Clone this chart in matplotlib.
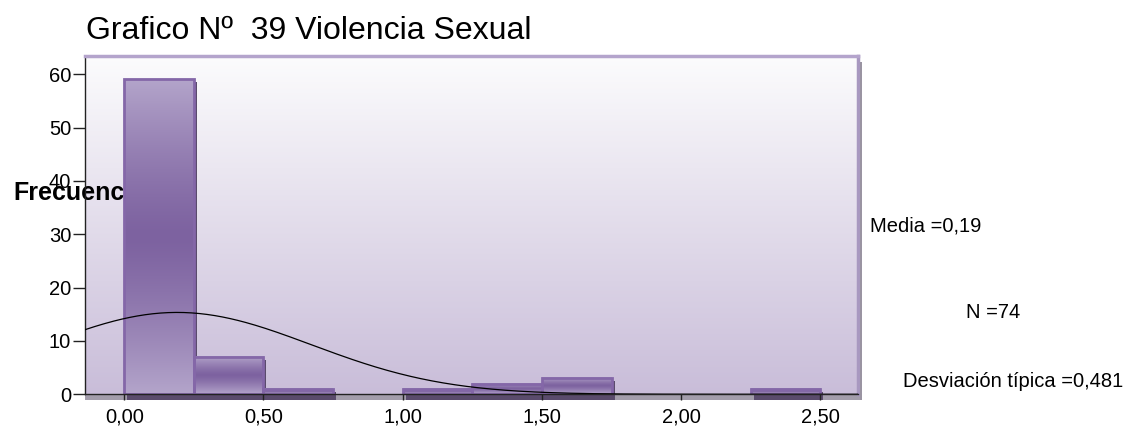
import numpy as np
import matplotlib
matplotlib.use("Agg")
import matplotlib.pyplot as plt
from matplotlib.colors import to_rgb
from matplotlib.patches import Rectangle

# ---- data ----
bin_edges = [0.0, 0.25, 0.5, 0.75, 1.0, 1.25, 1.5, 1.75, 2.0, 2.25, 2.5]
counts = [59, 7, 1, 0, 1, 2, 3, 0, 0, 1]
mean_val = 0.19
sd_val = 0.481
n_val = 74
x_ticks = [0.0, 0.5, 1.0, 1.5, 2.0, 2.5]
x_ticklabels = ["0,00", "0,50", "1,00", "1,50", "2,00", "2,50"]
y_ticks = [0, 10, 20, 30, 40, 50, 60]
title_text = "Grafico Nº  39 Violencia Sexual"
ylabel_text = "Frecuencia"
stat_texts = ["Media =0,19", "N =74", "Desviación típica =0,481"]

plt.rcParams['font.family'] = ['Liberation Sans', 'DejaVu Sans']

W, H = 1142, 426
fig = plt.figure(figsize=(W / 100, H / 100), dpi=100)
fig.patch.set_facecolor("white")

ax_l, ax_r, ax_t, ax_b = 85, 858, 56, 394.3
ax = fig.add_axes([ax_l / W, 1 - ax_b / H, (ax_r - ax_l) / W, (ax_b - ax_t) / H])
ax.set_facecolor("white")

XLIM = (-0.141, 2.635)
YLIM = (0, 63.4)

# background gradient (white top -> lavender bottom)
top_c = np.array(to_rgb("#fcfcfd"))
bot_c = np.array(to_rgb("#c9bdd9"))
t = np.linspace(0, 1, 256)[:, None]  # 0 top ... 1 bottom
grad = top_c[None, :] * (1 - t) + bot_c[None, :] * t
grad = grad[:, None, :].repeat(2, axis=1)
ax.imshow(grad, extent=[0, 1, 0, 1], transform=ax.transAxes, aspect='auto',
          zorder=0, interpolation='bilinear')

# floor band under x axis
floor_h = 6 / (ax_b - ax_t) * (YLIM[1] - YLIM[0])
ax.add_patch(Rectangle((XLIM[0], -floor_h), XLIM[1] - XLIM[0] + 0.012, floor_h,
                       facecolor="#a39dab", edgecolor="none", clip_on=False, zorder=0.5))

# bars
dark = np.array(to_rgb("#7d62a0"))
light = np.array(to_rgb("#b3a4ca"))
px_x = (XLIM[1] - XLIM[0]) / (ax_r - ax_l)
px_y = (YLIM[1] - YLIM[0]) / (ax_b - ax_t)
for i, c in enumerate(counts):
    if c <= 0:
        continue
    x0, x1 = bin_edges[i], bin_edges[i + 1]
    # shadow
    ax.add_patch(Rectangle((x0 + 3 * px_x, -floor_h), (x1 - x0), c + floor_h - 3 * px_y,
                           facecolor="#5a4b6c", edgecolor="none", clip_on=False, zorder=1.5))
    tt = np.linspace(0, 1, 128)[:, None]
    m = np.abs(tt - 0.5) * 2
    m = m ** 1.3
    g = dark[None, :] * (1 - m) + light[None, :] * m
    g = g[:, None, :].repeat(2, axis=1)
    ax.imshow(g, extent=[x0, x1, 0, c], aspect='auto', zorder=2, interpolation='bilinear')
    ax.add_patch(Rectangle((x0, 0), x1 - x0, c, facecolor="none", edgecolor="#8467a8",
                           linewidth=2.0, zorder=2.5))

# normal curve
xs = np.linspace(XLIM[0], XLIM[1], 400)
bw = bin_edges[1] - bin_edges[0]
ys = n_val * bw / (sd_val * np.sqrt(2 * np.pi)) * np.exp(-0.5 * ((xs - mean_val) / sd_val) ** 2)
ax.plot(xs, ys, color="black", linewidth=0.9, zorder=3)

ax.set_xlim(*XLIM)
ax.set_ylim(*YLIM)

# spines
ax.spines['left'].set_color("#222222")
ax.spines['left'].set_linewidth(1.0)
ax.spines['bottom'].set_color("#222222")
ax.spines['bottom'].set_linewidth(1.0)
ax.spines['bottom'].set_zorder(3)
ax.spines['top'].set_color("#b4a4cc")
ax.spines['top'].set_linewidth(2.5)
ax.spines['right'].set_color("#a898c0")
ax.spines['right'].set_linewidth(2.5)
# right shadow
ax.add_patch(Rectangle((1.0 + 1.5 / (ax_r - ax_l), -6 / (ax_b - ax_t)), 2.5 / (ax_r - ax_l), 1.0,
                       transform=ax.transAxes, facecolor="#9a94a2", edgecolor="none",
                       clip_on=False, zorder=4))

ax.set_xticks(x_ticks)
ax.set_xticklabels(x_ticklabels)
ax.set_yticks(y_ticks)
ax.tick_params(axis='x', direction='out', length=4.5, width=1, pad=5, labelsize=14.5, color="#222222")
ax.tick_params(axis='y', direction='out', length=8.5, width=1, pad=1.5, labelsize=14.5, color="#222222")

# y label (horizontal, behind bars)
ax.text(13.3 / W, 1 - 200 / H, ylabel_text, transform=fig.transFigure, fontsize=18,
        fontweight='bold', ha='left', va='baseline', zorder=1, clip_on=False)

# title
fig.text(85.5 / W, 1 - 39.3 / H, title_text, fontsize=23, ha='left', va='baseline')

# stats
fig.text(870 / W, 1 - 231.7 / H, stat_texts[0], fontsize=14.5, ha='left', va='baseline')
fig.text(966 / W, 1 - 318 / H, stat_texts[1], fontsize=14.5, ha='left', va='baseline')
fig.text(903 / W, 1 - 386.7 / H, stat_texts[2], fontsize=14.5, ha='left', va='baseline')

fig.savefig("out.png", dpi=100)
